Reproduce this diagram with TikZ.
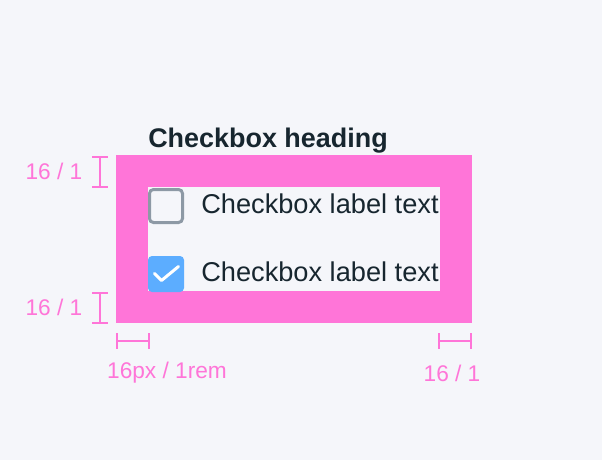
\documentclass[tikz,border=0pt]{standalone}
\usepackage{fontspec}
\setmainfont{Liberation Sans}
\usepackage{xcolor}
\definecolor{pagebg}{RGB}{245,246,250}
\definecolor{spacerpink}{RGB}{255,117,216}
\definecolor{inkdark}{RGB}{23,38,47}
\definecolor{boxgray}{RGB}{141,153,165}
\definecolor{checkblue}{RGB}{92,173,255}
\tikzset{
  dimbar/.style={draw=spacerpink, line width=1.5pt},
  dimlabel/.style={text=spacerpink, font=\fontsize{17}{19}\selectfont, inner sep=0.75pt},
  boxlabel/.style={text=inkdark, font=\fontsize{20.4}{22}\selectfont, anchor=base west, inner sep=0pt},
}
\begin{document}
\begin{tikzpicture}[x=0.75pt,y=0.75pt,yscale=-1,xscale=1]
%set diagram size 602 x 460
\fill[pagebg] (0,0) rectangle (602,460);
\useasboundingbox (0,0) rectangle (602,460);

%Shape: Rectangle [padding frame]
\fill[spacerpink] (116,155) rectangle (472,323);
\fill[pagebg] (148,187) rectangle (440,291);

% Text Node
\node (heading) [anchor=base west, inner sep=0pt, text=inkdark, font=\fontsize{20.2}{22}\bfseries] at (148,147) {Checkbox heading};

%Shape: Rectangle [unchecked box]
\draw[boxgray, line width=2.25pt, rounded corners=3pt] (149.5,189.5) rectangle (182.5,222.5);
%Shape: Rectangle [checked box]
\fill[checkblue, rounded corners=3pt] (148,256) rectangle (184,292);
\draw[white, line width=2.25pt, line cap=round, line join=round] (154.5,273.5) -- (161.5,280.5) -- (178.5,266.5);

% Text Node
\node (labelA) [boxlabel] at (201,213) {Checkbox label text};
% Text Node
\node (labelB) [boxlabel] at (201,281) {Checkbox label text};

%Shape: dimension marks
\coordinate (topA) at (100,157);  \coordinate (topB) at (100,187);
\coordinate (botA) at (100,293);  \coordinate (botB) at (100,323);
\coordinate (leftA) at (117,341); \coordinate (leftB) at (149,341);
\coordinate (rightA) at (439,341); \coordinate (rightB) at (471,341);
\foreach \a/\b in {topA/topB, botA/botB}{
  \draw[dimbar] (\a) -- (\b);
  \draw[dimbar] ([xshift=-6pt]\a) -- ([xshift=6pt]\a);
  \draw[dimbar] ([xshift=-6pt]\b) -- ([xshift=6pt]\b);
}
\foreach \a/\b in {leftA/leftB, rightA/rightB}{
  \draw[dimbar] (\a) -- (\b);
  \draw[dimbar] ([yshift=-6pt]\a) -- ([yshift=6pt]\a);
  \draw[dimbar] ([yshift=-6pt]\b) -- ([yshift=6pt]\b);
}

% Text Node
\node (dimTop) [dimlabel] at (54,171) {16 / 1};
% Text Node
\node (dimBot) [dimlabel] at (54,307) {16 / 1};
% Text Node
\node (dimLeft) [dimlabel] at (167,373) {16px / 1rem};
% Text Node
\node (dimRight) [dimlabel] at (452,373) {16 / 1};
\end{tikzpicture}
\end{document}
